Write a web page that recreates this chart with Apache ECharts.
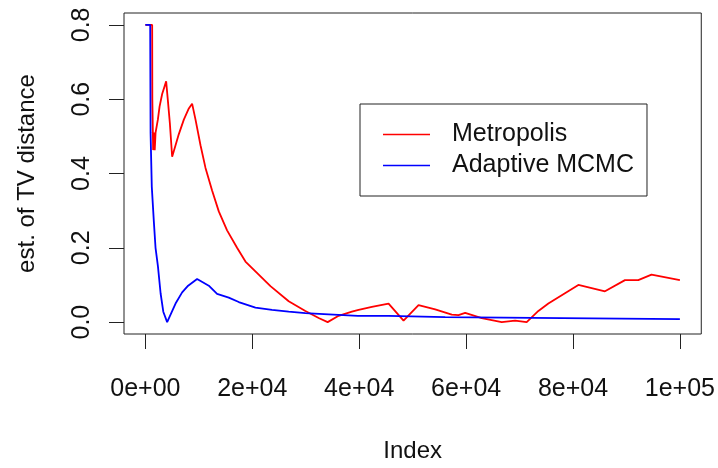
<!DOCTYPE html>
<html>
<head>
<meta charset="utf-8">
<script src="https://cdn.jsdelivr.net/npm/echarts@6/dist/echarts.min.js"></script>
<style>
html,body{margin:0;padding:0;background:#fff;}
#chart{width:718px;height:468px;}
</style>
</head>
<body>
<div id="chart"></div>
<script>
// ---- data ----
var seriesNames = ['Metropolis', 'Adaptive MCMC'];
var metropolis = [
  [0,0.8],[1270,0.8],[1300,0.6],[1400,0.51],[1450,0.463],[1600,0.463],[1650,0.51],[1750,0.463],
  [1850,0.463],[1906,0.51],[2336,0.545],[2653,0.58],[3139,0.614],[3886,0.648],[4260,0.588],
  [4578,0.536],[5008,0.445],[5643,0.476],[6259,0.506],[7194,0.545],[8128,0.575],[8744,0.588],
  [9380,0.545],[10314,0.476],[11248,0.415],[12481,0.354],[13733,0.298],[15284,0.247],[17152,0.2],
  [18722,0.163],[21207,0.128],[23400,0.097],[26812,0.056],[29933,0.03],[32418,0.011],[34100,0.0],
  [36155,0.017],[38640,0.028],[39893,0.033],[42377,0.041],[45497,0.05],[48300,0.004],[51102,0.046],
  [54223,0.034],[57324,0.02],[58576,0.019],[59828,0.025],[62930,0.011],[66667,0.0],[69170,0.004],
  [71338,0.0],[73524,0.03],[75392,0.05],[81002,0.1],[85987,0.083],[89724,0.113],[92209,0.113],
  [94694,0.128],[100000,0.113]
];
var adaptive = [
  [0,0.8],[900,0.8],[970,0.51],[1200,0.364],[1600,0.267],[1900,0.2],[2350,0.15],[2850,0.077],
  [3350,0.028],[4073,0.0],[5643,0.05],[6876,0.08],[8000,0.098],[9679,0.116],[11865,0.098],
  [13415,0.076],[15602,0.066],[17470,0.054],[20590,0.039],[23692,0.033],[26813,0.028],[29933,0.024],
  [34286,0.021],[39761,0.017],[45497,0.017],[45500,0.0135],[56090,0.0135],[56100,0.009],[100000,0.008]
];
var xTickValues = [0, 20000, 40000, 60000, 80000, 100000];
var xTickLabels = ['0e+00', '2e+04', '4e+04', '6e+04', '8e+04', '1e+05'];
var yTickValues = [0, 0.2, 0.4, 0.6, 0.8];
var yTickLabels = ['0.0', '0.2', '0.4', '0.6', '0.8'];
var xName = 'Index';
var yName = 'est. of TV distance';

// ---- chart ----
var FONT = '"Liberation Sans", Arial, sans-serif';
var TXT = '#111';
var chart = echarts.init(document.getElementById('chart'), null, {renderer: 'canvas'});
chart.setOption({
  animation: false,
  backgroundColor: '#fff',
  grid: {left: 124, top: 13, right: 15, bottom: 123, show: true, borderColor: '#222', borderWidth: 1, containLabel: false},
  xAxis: {
    type: 'value', min: -4000, max: 104000,
    name: xName, nameLocation: 'middle', nameGap: 105,
    nameTextStyle: {fontSize: 24, color: TXT, fontFamily: FONT},
    axisLine: {show: false, onZero: false},
    splitLine: {show: false},
    axisTick: {show: true, inside: false, length: 15, customValues: xTickValues, lineStyle: {color: '#222', width: 1}},
    axisLabel: {customValues: xTickValues, margin: 43, fontSize: 25, color: TXT, fontFamily: FONT,
      formatter: function (v) { var i = xTickValues.indexOf(v); return i >= 0 ? xTickLabels[i] : ''; }}
  },
  yAxis: {
    type: 'value', min: -0.032, max: 0.832,
    name: yName, nameLocation: 'middle', nameGap: 85, nameRotate: 90,
    nameTextStyle: {fontSize: 24, color: TXT, fontFamily: FONT},
    axisLine: {show: false, onZero: false},
    splitLine: {show: false},
    axisTick: {show: true, inside: false, length: 15, customValues: yTickValues, lineStyle: {color: '#222', width: 1}},
    axisLabel: {customValues: yTickValues, rotate: 90, margin: 29, fontSize: 25, color: TXT, fontFamily: FONT,
      formatter: function (v) {
        for (var i = 0; i < yTickValues.length; i++) { if (Math.abs(yTickValues[i] - v) < 1e-9) return yTickLabels[i]; }
        return '';
      }}
  },
  legend: {
    orient: 'vertical', left: 360, top: 104,
    padding: [18, 13, 18, 23],
    borderColor: '#222', borderWidth: 1,
    icon: 'rect',
    itemWidth: 47, itemHeight: 1.6, itemGap: 6,
    textStyle: {fontSize: 25, color: TXT, fontFamily: FONT, padding: [0, 0, 0, 17]},
    data: seriesNames
  },
  series: [
    {name: seriesNames[0], type: 'line', data: metropolis, symbol: 'none', lineStyle: {color: '#ff0000', width: 1.8}, itemStyle: {color: '#ff0000'}},
    {name: seriesNames[1], type: 'line', data: adaptive, symbol: 'none', lineStyle: {color: '#0000ff', width: 1.8}, itemStyle: {color: '#0000ff'}}
  ]
});
</script>
</body>
</html>
